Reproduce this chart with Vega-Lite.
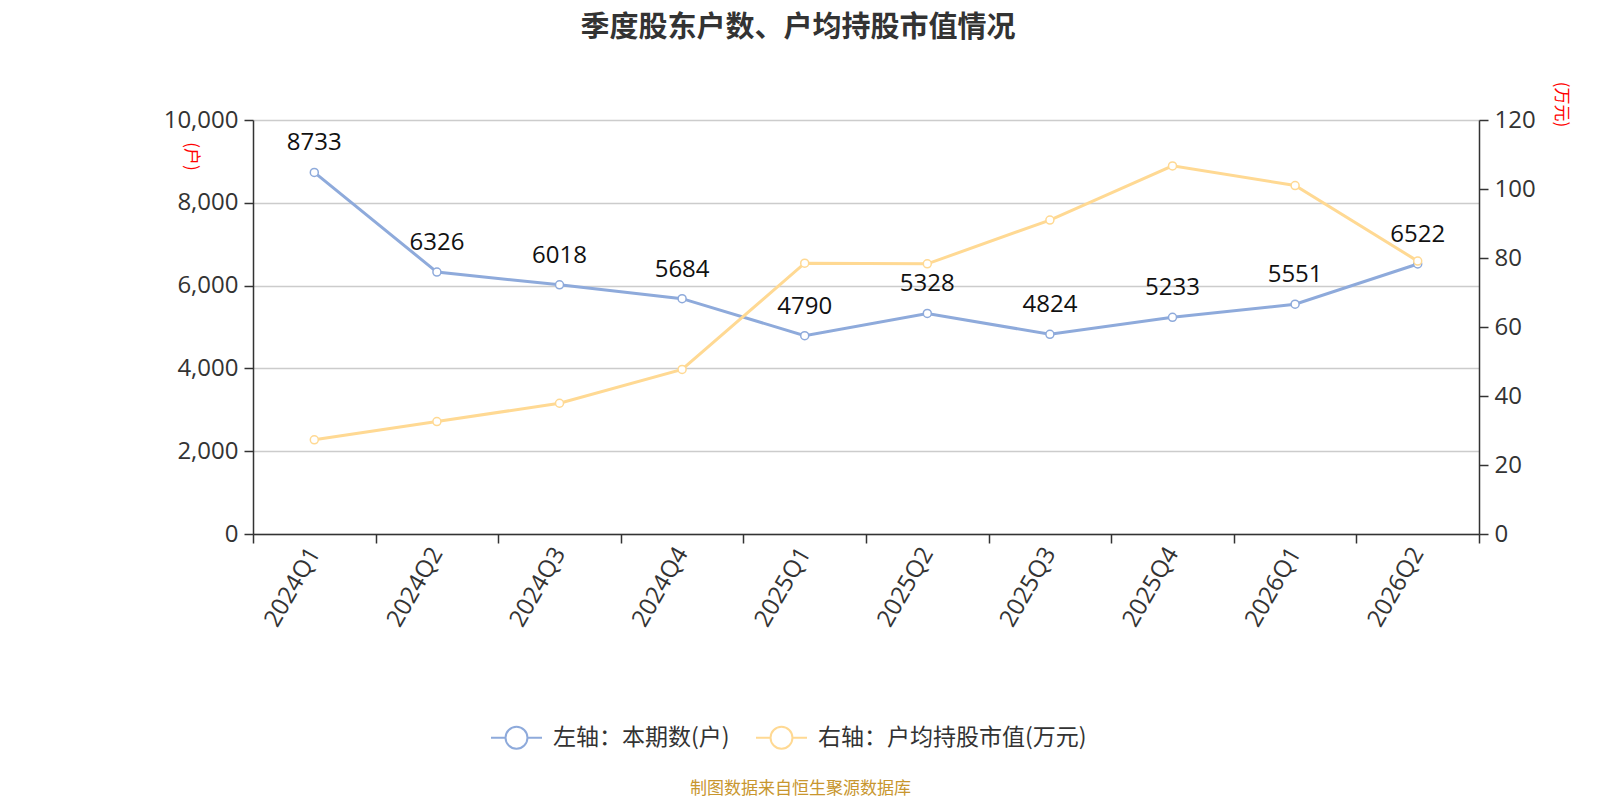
{
  "$schema": "https://vega.github.io/schema/vega-lite/v6.json",
  "width": 1226,
  "height": 414,
  "autosize": {"type": "none"},
  "padding": {"left": 253, "top": 120, "right": 121, "bottom": 266},
  "background": "white",
  "title": {
    "text": "季度股东户数、户均持股市值情况",
    "fontSize": 29,
    "fontWeight": "bold",
    "color": "#333333",
    "font": "Noto Sans CJK SC",
    "anchor": "middle",
    "dx": -68,
    "offset": 38
  },
  "config": {
    "font": "Noto Sans CJK SC",
    "view": {"stroke": null},
    "axis": {"labelFont": "Open Sans", "labelFontSize": 24, "labelColor": "#333333", "domainColor": "#333333", "tickColor": "#333333", "domainWidth": 1.5, "tickWidth": 1.5, "tickSize": 9}
  },
  "data": {
    "values": [
      {"q": "2024Q1", "s": "左轴：本期数(户)", "v": 8733},
      {"q": "2024Q2", "s": "左轴：本期数(户)", "v": 6326},
      {"q": "2024Q3", "s": "左轴：本期数(户)", "v": 6018},
      {"q": "2024Q4", "s": "左轴：本期数(户)", "v": 5684},
      {"q": "2025Q1", "s": "左轴：本期数(户)", "v": 4790},
      {"q": "2025Q2", "s": "左轴：本期数(户)", "v": 5328},
      {"q": "2025Q3", "s": "左轴：本期数(户)", "v": 4824},
      {"q": "2025Q4", "s": "左轴：本期数(户)", "v": 5233},
      {"q": "2026Q1", "s": "左轴：本期数(户)", "v": 5551},
      {"q": "2026Q2", "s": "左轴：本期数(户)", "v": 6522},
      {"q": "2024Q1", "s": "右轴：户均持股市值(万元)", "v": 27.3},
      {"q": "2024Q2", "s": "右轴：户均持股市值(万元)", "v": 32.6},
      {"q": "2024Q3", "s": "右轴：户均持股市值(万元)", "v": 37.9},
      {"q": "2024Q4", "s": "右轴：户均持股市值(万元)", "v": 47.7},
      {"q": "2025Q1", "s": "右轴：户均持股市值(万元)", "v": 78.5},
      {"q": "2025Q2", "s": "右轴：户均持股市值(万元)", "v": 78.3},
      {"q": "2025Q3", "s": "右轴：户均持股市值(万元)", "v": 91.0},
      {"q": "2025Q4", "s": "右轴：户均持股市值(万元)", "v": 106.7},
      {"q": "2026Q1", "s": "右轴：户均持股市值(万元)", "v": 101.0},
      {"q": "2026Q2", "s": "右轴：户均持股市值(万元)", "v": 79.1}
    ]
  },
  "encoding": {
    "x": {
      "field": "q",
      "type": "nominal",
      "sort": null,
      "scale": {"type": "band", "paddingInner": 0, "paddingOuter": 0},
      "axis": {
        "title": "制图数据来自恒生聚源数据库",
        "titleColor": "#C8962E",
        "titleFontSize": 17,
        "titleFontWeight": "normal",
        "titleX": 547,
        "titleY": 246,
        "labelAngle": -60,
        "labelAlign": "right",
        "labelBaseline": "middle",
        "labelPadding": 6,
        "tickBand": "extent",
        "grid": false
      }
    }
  },
  "layer": [
    {
      "transform": [{"filter": "datum.s == '左轴：本期数(户)'"}],
      "encoding": {
        "y": {
          "field": "v",
          "type": "quantitative",
          "scale": {"domain": [0, 10000]},
          "axis": {
            "orient": "left",
            "values": [0, 2000, 4000, 6000, 8000, 10000],
            "format": ",d",
            "grid": true,
            "gridColor": "#cccccc",
            "gridWidth": 1.5,
            "labelPadding": 6,
            "title": "(户)",
            "titleColor": "#ff0000",
            "titleFontSize": 17,
            "titleFontWeight": "normal",
            "titleAngle": 90,
            "titleX": -72,
            "titleY": 36
          }
        }
      },
      "layer": [
        {
          "mark": {"type": "line", "strokeWidth": 3},
          "encoding": {
            "color": {
              "field": "s",
              "type": "nominal",
              "sort": null,
              "scale": {"domain": ["左轴：本期数(户)", "右轴：户均持股市值(万元)"], "range": ["#8EAADB", "#FFD993"]},
              "legend": {
                "title": null,
                "orient": "none",
                "direction": "horizontal",
                "legendX": 237,
                "legendY": 591,
                "labelFontSize": 23,
                "labelColor": "#333333",
                "labelFont": "Noto Sans CJK SC",
                "labelLimit": 600,
                "symbolType": "M-1,0L-0.43,0M0.43,0L1,0M-0.43,0A0.43,0.43 0 1,1 0.43,0A0.43,0.43 0 1,1 -0.43,0Z",
                "symbolSize": 2600,
                "symbolStrokeWidth": 2,
                "columnPadding": 22,
                "labelOffset": 10,
                "encode": {"symbols": {"update": {"fill": {"value": "white"}}}}
              }
            }
          }
        },
        {
          "mark": {"type": "point", "filled": false, "fill": "white", "size": 64, "strokeWidth": 1.5, "opacity": 1},
          "encoding": {"stroke": {"field": "s", "type": "nominal", "sort": null, "scale": {"domain": ["左轴：本期数(户)", "右轴：户均持股市值(万元)"], "range": ["#8EAADB", "#FFD993"]}, "legend": null}}
        }
      ]
    },
    {
      "transform": [{"filter": "datum.s == '右轴：户均持股市值(万元)'"}],
      "encoding": {
        "y": {
          "field": "v",
          "type": "quantitative",
          "scale": {"domain": [0, 120]},
          "axis": {
            "orient": "right",
            "values": [0, 20, 40, 60, 80, 100, 120],
            "grid": false,
            "labelPadding": 6,
            "title": "(万元)",
            "titleColor": "#ff0000",
            "titleFontSize": 17,
            "titleFontWeight": "normal",
            "titleAngle": 90,
            "titleX": 72,
            "titleY": -16
          }
        }
      },
      "layer": [
        {"mark": {"type": "line", "strokeWidth": 3}, "encoding": {"color": {"field": "s", "type": "nominal", "sort": null}}},
        {
          "mark": {"type": "point", "filled": false, "fill": "white", "size": 64, "strokeWidth": 1.5, "opacity": 1},
          "encoding": {"stroke": {"field": "s", "type": "nominal", "sort": null, "legend": null}}
        }
      ]
    },
    {
      "transform": [{"filter": "datum.s == '左轴：本期数(户)'"}],
      "mark": {"type": "text", "fontSize": 24, "font": "Open Sans", "color": "#111111", "baseline": "middle", "dy": -29},
      "encoding": {
        "y": {"field": "v", "type": "quantitative", "scale": {"domain": [0, 10000]}, "axis": null},
        "text": {"field": "v", "type": "quantitative", "format": "d"}
      }
    }
  ],
  "resolve": {"scale": {"y": "independent"}}
}
